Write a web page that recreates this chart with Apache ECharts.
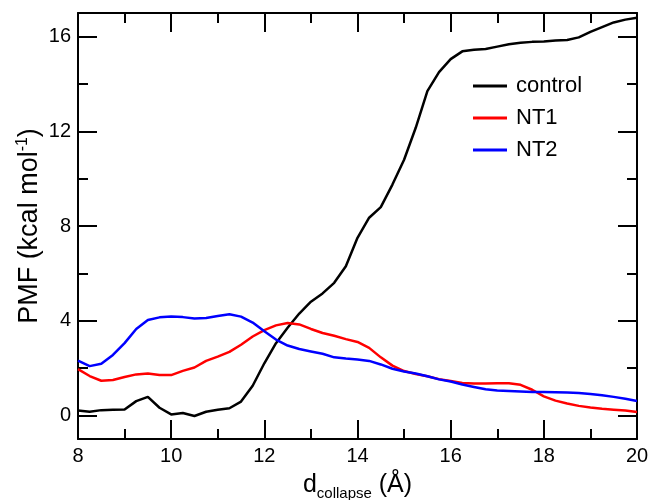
<!DOCTYPE html>
<html>
<head>
<meta charset="utf-8">
<script src="https://cdn.jsdelivr.net/npm/echarts@6/dist/echarts.min.js"></script>
<style>
html,body{margin:0;padding:0;background:#fff;}
#chart{width:650px;height:500px;}
</style>
</head>
<body>
<div id="chart"></div>
<script>
const xValues = [8, 8.25, 8.5, 8.75, 9, 9.25, 9.5, 9.75, 10, 10.25, 10.5, 10.75, 11, 11.25, 11.5, 11.75, 12, 12.25, 12.5, 12.75, 13, 13.25, 13.5, 13.75, 14, 14.25, 14.5, 14.75, 15, 15.25, 15.5, 15.75, 16, 16.25, 16.5, 16.75, 17, 17.25, 17.5, 17.75, 18, 18.25, 18.5, 18.75, 19, 19.25, 19.5, 19.75, 20];
const control = [0.2, 0.15, 0.22, 0.24, 0.25, 0.6, 0.78, 0.32, 0.04, 0.1, -0.03, 0.15, 0.24, 0.3, 0.58, 1.25, 2.2, 3.05, 3.7, 4.3, 4.8, 5.15, 5.6, 6.3, 7.5, 8.35, 8.8, 9.75, 10.8, 12.15, 13.7, 14.5, 15.05, 15.38, 15.45, 15.48, 15.58, 15.68, 15.74, 15.78, 15.8, 15.84, 15.86, 15.97, 16.2, 16.4, 16.6, 16.72, 16.8];
const nt1 = [1.95, 1.66, 1.46, 1.49, 1.62, 1.73, 1.77, 1.7, 1.7, 1.88, 2.02, 2.3, 2.48, 2.68, 2.98, 3.33, 3.6, 3.8, 3.9, 3.84, 3.65, 3.48, 3.36, 3.22, 3.1, 2.85, 2.45, 2.1, 1.87, 1.75, 1.65, 1.53, 1.45, 1.37, 1.35, 1.35, 1.36, 1.36, 1.29, 1.08, 0.8, 0.62, 0.5, 0.4, 0.33, 0.28, 0.24, 0.2, 0.14];
const nt2 = [2.31, 2.08, 2.18, 2.55, 3.05, 3.65, 4.03, 4.14, 4.18, 4.15, 4.09, 4.11, 4.2, 4.27, 4.17, 3.92, 3.55, 3.2, 2.95, 2.8, 2.7, 2.6, 2.45, 2.4, 2.36, 2.3, 2.15, 1.97, 1.85, 1.77, 1.65, 1.52, 1.43, 1.3, 1.2, 1.1, 1.05, 1.03, 1.01, 0.99, 0.99, 0.98, 0.96, 0.94, 0.9, 0.85, 0.78, 0.7, 0.61];
const yMajorTicks = [0, 4, 8, 12, 16];
const yMinorTicks = [2, 6, 10, 14];
const seriesNames = ['control', 'NT1', 'NT2'];
const seriesColors = ['#000000', '#ff0000', '#0000ff'];

const font = 'Liberation Sans, Arial, sans-serif';
const pair = (ys) => xValues.map((x, i) => [x, ys[i]]);

function xAxisDef(pos, showLabel) {
  return {
    type: 'value', position: pos, min: 8, max: 20, interval: 2,
    axisLine: {show: true, onZero: false, lineStyle: {color: '#000', width: 2}},
    axisTick: {show: true, inside: true, length: 19, lineStyle: {color: '#000', width: 2}},
    minorTick: {show: true, splitNumber: 2, length: 10, lineStyle: {color: '#000', width: 2}},
    axisLabel: {show: showLabel, color: '#000', fontSize: 20, fontFamily: font, margin: 7},
    splitLine: {show: false}, minorSplitLine: {show: false},
    name: showLabel ? '{d|d}{s|collapse}{d| (Å)}' : '',
    nameLocation: 'middle', nameGap: 31,
    nameTextStyle: {rich: {
      d: {fontSize: 25, fontFamily: font, color: '#000'},
      s: {fontSize: 15, fontFamily: font, color: '#000', verticalAlign: 'bottom', padding: [16, 0, 0, 0]}
    }}
  };
}
function yAxisDef(pos, ticks, len, showLabel, showLine) {
  return {
    type: 'value', position: pos, min: -1, max: 17,
    axisLine: {show: showLine, onZero: false, lineStyle: {color: '#000', width: 2}},
    axisTick: {show: true, inside: true, length: len, customValues: ticks, lineStyle: {color: '#000', width: 2}},
    axisLabel: {show: showLabel, customValues: ticks, color: '#000', fontSize: 20, fontFamily: font, margin: 7},
    splitLine: {show: false},
    name: showLabel ? '{t|PMF (kcal mol}{p|-1}{t|)}' : '',
    nameLocation: 'middle', nameGap: 33, nameRotate: 90, nameMoveOverlap: false,
    nameTextStyle: {rich: {
      t: {fontSize: 27, fontFamily: font, color: '#000'},
      p: {fontSize: 16, fontFamily: font, color: '#000', verticalAlign: 'top', padding: [0, 0, 14, 0]}
    }}
  };
}

const chart = echarts.init(document.getElementById('chart'), null, {renderer: 'canvas'});
chart.setOption({
  backgroundColor: '#fff',
  animation: false,
  grid: {left: 78, right: 13, top: 13, bottom: 61, show: false, containLabel: false, outerBoundsMode: 'none'},
  legend: {
    orient: 'vertical', left: 468, top: 70, itemWidth: 34, itemHeight: 3, itemGap: 10,
    textStyle: {fontSize: 22, fontFamily: font, color: '#000', padding: [0, 0, 0, 4]},
    data: seriesNames.map(n => ({name: n, icon: 'rect'}))
  },
  xAxis: [xAxisDef('bottom', true), xAxisDef('top', false)],
  yAxis: [
    yAxisDef('left', yMajorTicks, 19, true, true),
    yAxisDef('left', yMinorTicks, 10, false, false),
    yAxisDef('right', yMajorTicks, 19, false, true),
    yAxisDef('right', yMinorTicks, 10, false, false)
  ],
  series: [control, nt1, nt2].map((d, i) => ({
    name: seriesNames[i], type: 'line', data: pair(d), xAxisIndex: 0, yAxisIndex: 0,
    symbol: 'none', smooth: false,
    lineStyle: {color: seriesColors[i], width: 2.5},
    itemStyle: {color: seriesColors[i]}
  }))
});
</script>
</body>
</html>
